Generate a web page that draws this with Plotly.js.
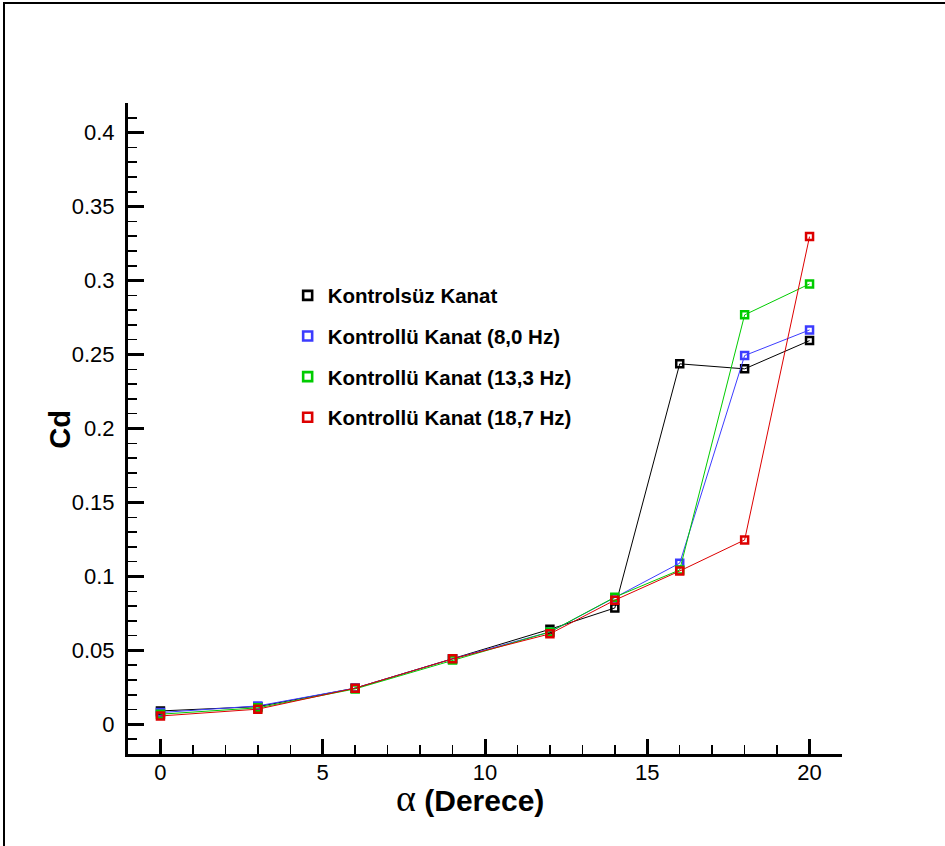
<!DOCTYPE html>
<html>
<head>
<meta charset="utf-8">
<script src="https://cdn.plot.ly/plotly-3.0.1.min.js"></script>
<style>
  html, body { margin: 0; padding: 0; background: #fff; }
  #wrap { position: relative; width: 945px; height: 846px; overflow: hidden; }
  #chart { position: absolute; left: 0; top: 0; width: 945px; height: 846px; }
  #frame { position: absolute; left: 3px; top: 2px; right: -10px; bottom: -10px;
           border-left: 2px solid #000; border-top: 2px solid #000; pointer-events: none; }
</style>
</head>
<body>
<div id="wrap">
  <div id="chart"></div>
  <div id="frame"></div>
</div>
<script>
// Angle of attack (degrees)
const alpha = [0, 3, 6, 9, 12, 14, 16, 18, 20];

// Drag coefficient for each wing configuration
const cdUncontrolled = [0.0091, 0.0120, 0.0245, 0.0443, 0.0643, 0.0787, 0.2437, 0.2403, 0.2594];
const cd8Hz          = [0.0080, 0.0125, 0.0245, 0.0443, 0.0625, 0.0855, 0.1090, 0.2493, 0.2666];
const cd13Hz         = [0.0069, 0.0112, 0.0240, 0.0435, 0.0625, 0.0860, 0.1044, 0.2768, 0.2977];
const cd18Hz         = [0.0057, 0.0103, 0.0245, 0.0443, 0.0612, 0.0840, 0.1037, 0.1247, 0.3297];

const seriesNames  = ['Kontrolsüz Kanat', 'Kontrollü Kanat (8,0 Hz)', 'Kontrollü Kanat (13,3 Hz)', 'Kontrollü Kanat (18,7 Hz)'];
const seriesValues = [cdUncontrolled, cd8Hz, cd13Hz, cd18Hz];
const seriesColors = ['#000000', '#3c3cff', '#00cc00', '#dd0000'];

const traces = [];
// Curves with open-square markers
seriesValues.forEach((vals, i) => {
  traces.push({
    x: alpha, y: vals, type: 'scatter', mode: 'lines+markers',
    name: seriesNames[i], showlegend: false,
    line: { color: seriesColors[i], width: 1 },
    marker: { symbol: 'square-open', size: 7, color: seriesColors[i], line: { width: 2.5, color: seriesColors[i] } },
    hoverinfo: 'x+y+name'
  });
});
// Marker-only legend entries
seriesNames.forEach((name, i) => {
  traces.push({
    x: [null], y: [null], type: 'scatter', mode: 'markers',
    name: name, legendgroup: 'g' + i,
    marker: { symbol: 'square-open', size: 9, color: seriesColors[i], line: { width: 2.6, color: seriesColors[i] } }
  });
});

const sans = 'Liberation Sans, Arial, sans-serif';
const tickFont = { family: sans, size: 22, color: '#000' };

const layout = {
  width: 945, height: 846,
  margin: { l: 128, r: 103, t: 103, b: 92 },
  paper_bgcolor: '#fff', plot_bgcolor: '#fff',
  showlegend: true,
  legend: {
    x: 0.2236, y: 0.735, xanchor: 'left', yanchor: 'top',
    bgcolor: 'rgba(0,0,0,0)', borderwidth: 0,
    tracegroupgap: 11,
    font: { family: sans, size: 20.5, color: '#000', weight: 'bold' }
  },
  xaxis: {
    range: [-1, 21], tick0: 0, dtick: 5,
    ticks: 'inside', ticklen: 15, tickwidth: 3, tickcolor: '#000',
    minor: { dtick: 1, tick0: 0, ticks: 'inside', ticklen: 9, tickwidth: 1.5, tickcolor: '#000', showgrid: false },
    showline: true, linewidth: 3, linecolor: '#000',
    showgrid: false, zeroline: false,
    tickfont: tickFont, ticklabelstandoff: -3
  },
  yaxis: {
    range: [-0.02, 0.42], tick0: 0, dtick: 0.05,
    ticks: 'inside', ticklen: 16, tickwidth: 3, tickcolor: '#000',
    minor: { dtick: 0.01, tick0: 0, ticks: 'inside', ticklen: 9, tickwidth: 1.5, tickcolor: '#000', showgrid: false },
    showline: true, linewidth: 3, linecolor: '#000',
    showgrid: false, zeroline: false,
    tickfont: tickFont, ticklabelstandoff: 6
  },
  annotations: [
    {
      // x-axis title, placed slightly left of the plot centre
      text: '<span style="font-family:Liberation Serif, serif;font-size:38px">α</span> <b>(Derece)</b>',
      font: { family: sans, size: 30, color: '#000' },
      xref: 'paper', yref: 'paper', x: 0.479, y: 0,
      xanchor: 'center', yanchor: 'middle', yshift: -44, showarrow: false
    },
    {
      // y-axis title
      text: '<b>Cd</b>',
      font: { family: sans, size: 29, color: '#000' },
      textangle: -90,
      xref: 'paper', yref: 'paper', x: 0, y: 0.498,
      xanchor: 'center', yanchor: 'middle', xshift: -68, showarrow: false
    }
  ]
};

Plotly.newPlot('chart', traces, layout, { displayModeBar: false, staticPlot: true });
</script>
</body>
</html>
